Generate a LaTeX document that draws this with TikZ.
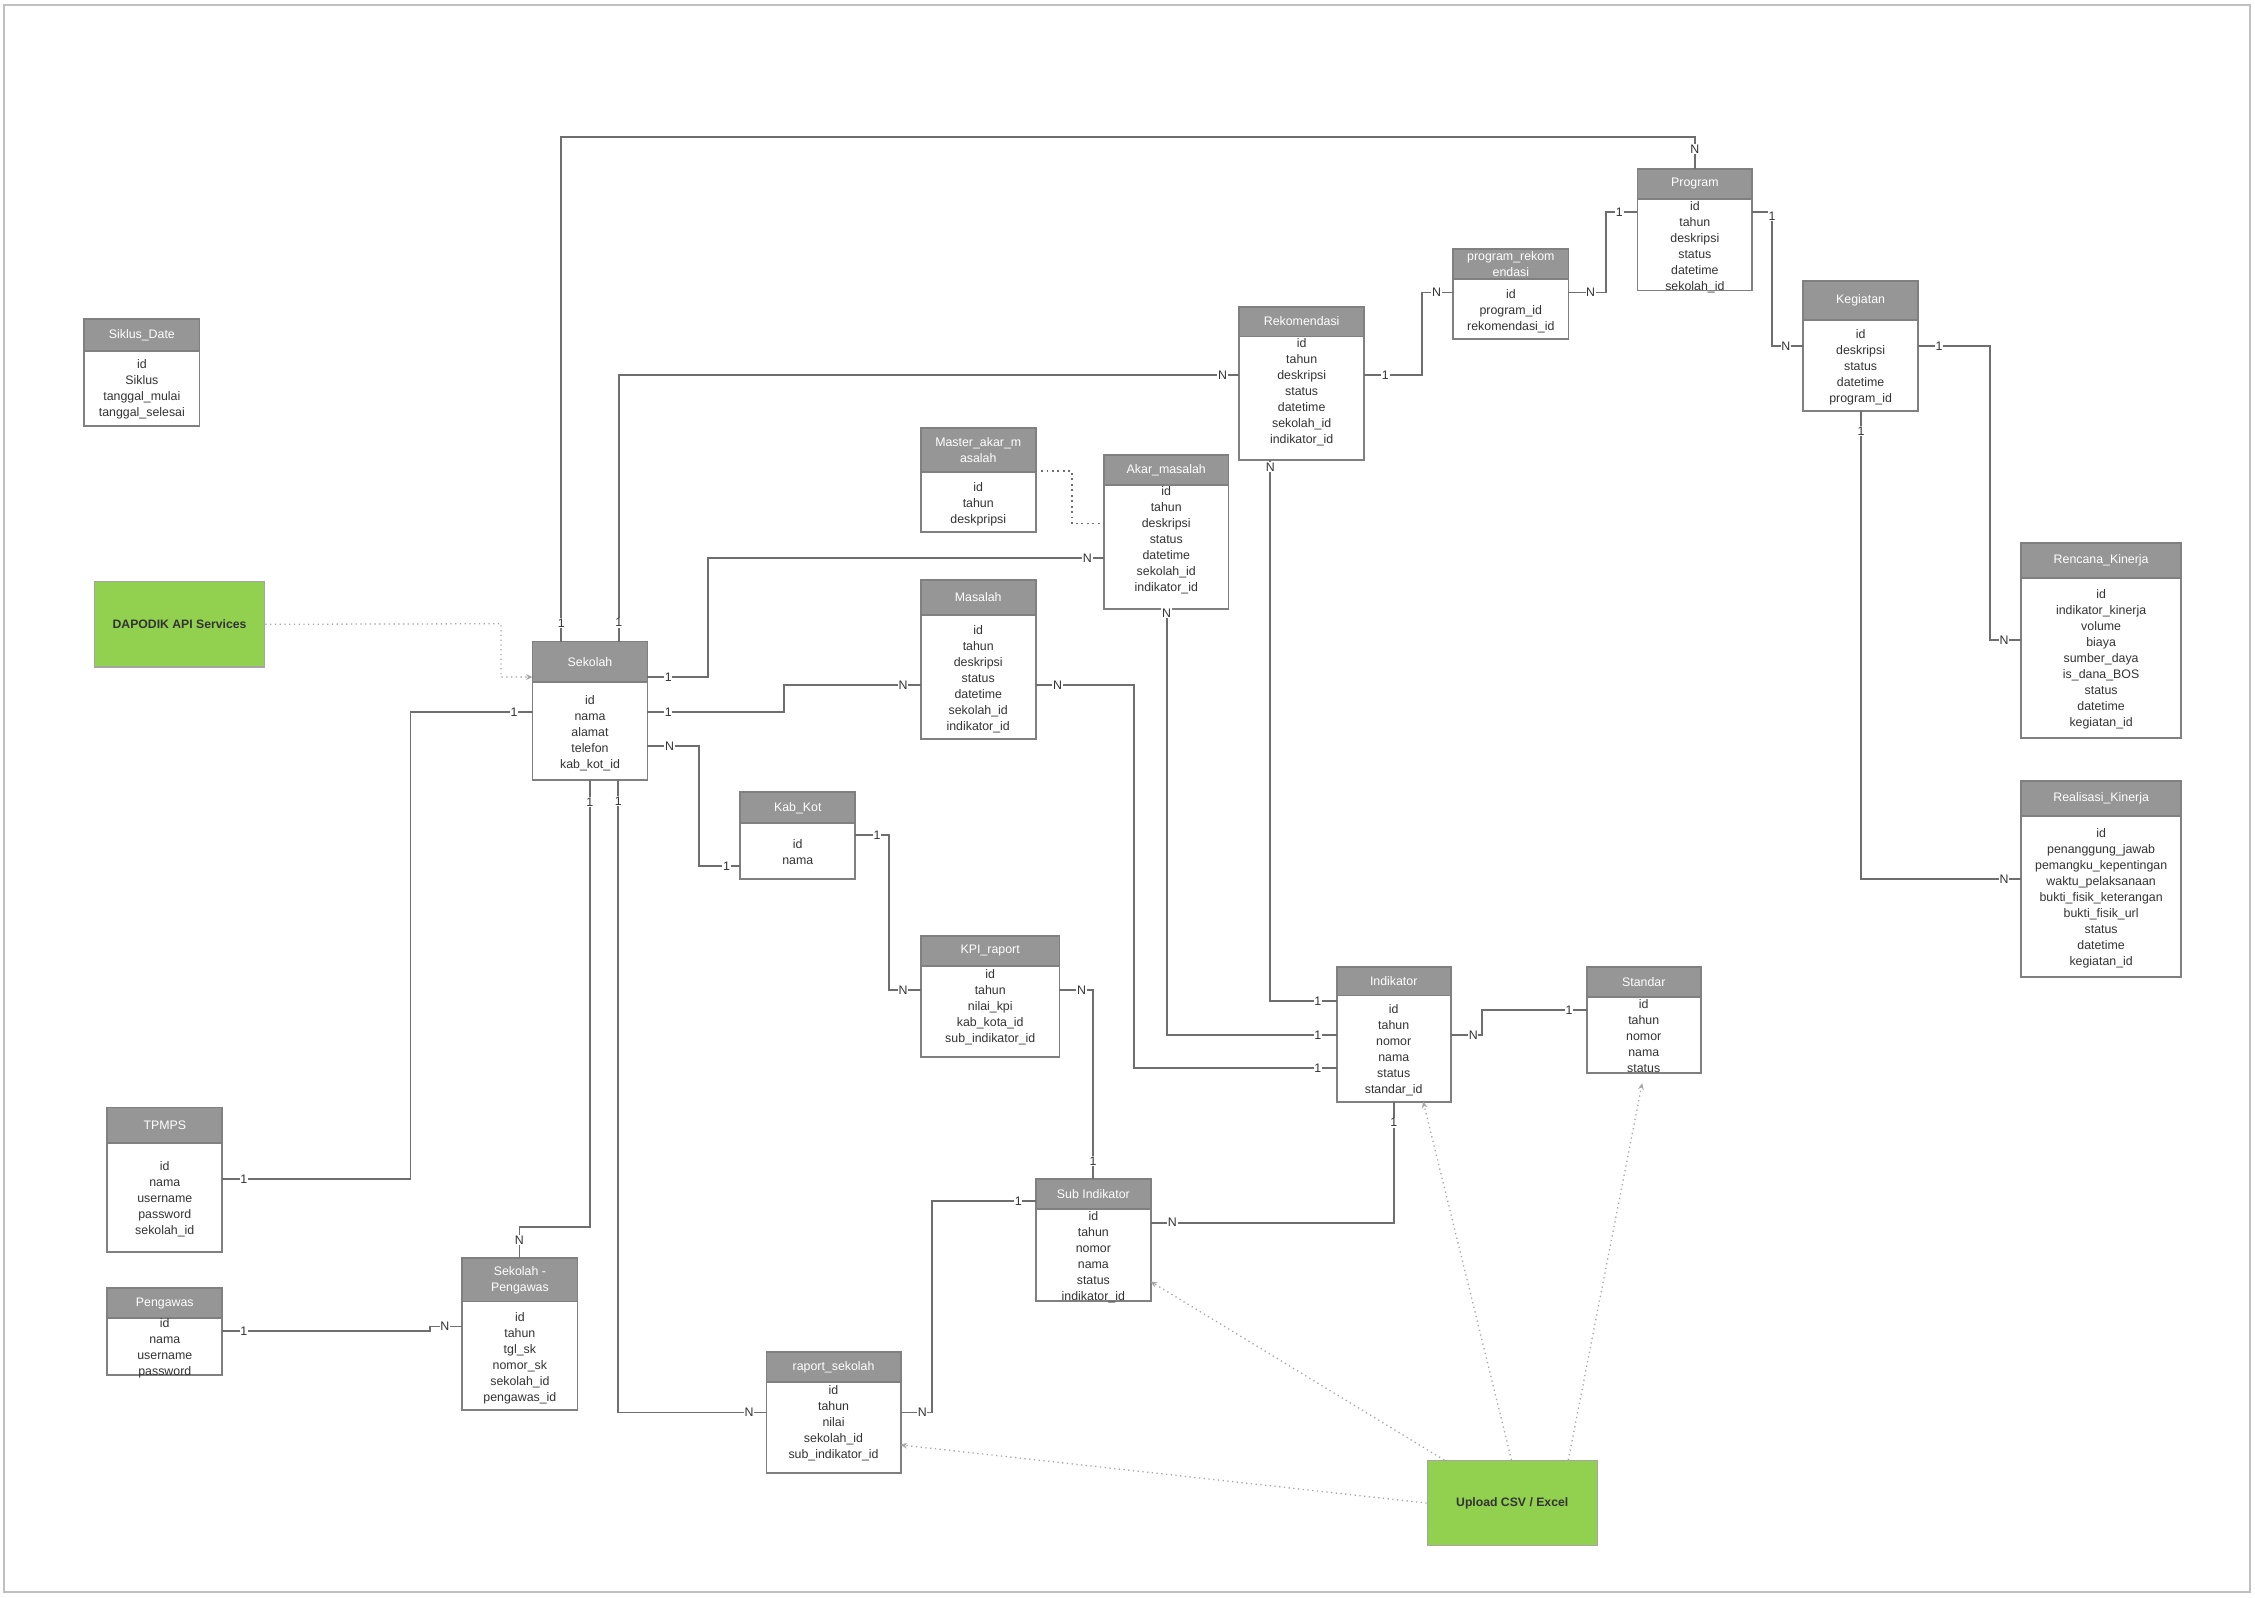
\documentclass[tikz,border=0pt]{standalone}
\usepackage{fontspec}
\setmainfont{Liberation Sans}
\usepackage{tikz}
\usetikzlibrary{arrows.meta, positioning, calc}
\definecolor{hdrgray}{RGB}{150,150,150}
\definecolor{boxgray}{RGB}{128,128,128}
\definecolor{linkgray}{RGB}{110,110,110}
\definecolor{dotgray}{RGB}{165,165,165}
\definecolor{apigreen}{RGB}{146,208,80}
\definecolor{txtgray}{RGB}{51,51,51}
\definecolor{framegray}{RGB}{192,192,192}
\tikzset{
  tbl/.style={draw=boxgray, fill=white, line width=1.3pt, inner sep=0pt, outer sep=0pt, anchor=north west},
  tblhead/.style={draw=boxgray, fill=hdrgray, line width=1.3pt, inner sep=0pt, outer sep=0pt, anchor=north west, text=white, align=center, font=\fontsize{8.6}{11.2}\selectfont},
  tblrows/.style={anchor=north, inner sep=0pt, align=center, text=txtgray, font=\fontsize{8.6}{11.15}\selectfont},
  card/.style={fill=white, inner sep=0.5pt, text=txtgray, font=\fontsize{8.6}{10}\selectfont},
  rel/.style={draw=linkgray, line width=1.3pt},
  feed/.style={draw=dotgray, line width=0.9pt, dash pattern=on 0.9pt off 2.4pt, -{Stealth[length=4.5pt,width=4pt]}},
  dotlink/.style={draw=linkgray, line width=1.2pt, dash pattern=on 1.2pt off 2.6pt},
  apibox/.style={draw=dotgray, fill=apigreen, line width=0.8pt, anchor=north west, inner sep=0pt, text=txtgray, font=\bfseries\fontsize{8.5}{10}\selectfont}
}

\begin{document}
\begin{tikzpicture}[x=1pt, y=-1pt]
  \useasboundingbox (0,0) rectangle (1568,1110.5);
  \draw[framegray, line width=1.2pt] (3,3.3) rectangle (1564.4,1107);

  % Siklus_Date
  \node[tbl, minimum width=80.1pt, minimum height=74.5pt] (siklus) at (58.6,222) {};
  \node[tblhead, minimum width=80.1pt, minimum height=21.8pt] (siklus-h) at (siklus.north west) {Siklus\_Date};
  \node[tblrows] (siklus-t) at (98.65,250) {id\\Siklus\\tanggal\_mulai\\tanggal\_selesai};

  % API and upload sources
  \node[apibox, minimum width=118.5pt, minimum height=59.4pt] (dapodik) at (65.2,404) {DAPODIK API Services};
  \node[apibox, minimum width=118.2pt, minimum height=59.1pt] (upload) at (992,1015.2) {Upload CSV / Excel};

  % Sekolah
  \node[tbl, minimum width=79.9pt, minimum height=96.2pt] (sekolah) at (370.3,446.1) {};
  \node[tblhead, minimum width=79.9pt, minimum height=28.1pt] (sekolah-h) at (sekolah.north west) {Sekolah};
  \node[tblrows] (sekolah-t) at (410.25,483.1) {id\\nama\\alamat\\telefon\\kab\_kot\_id};

  % Rekomendasi
  \node[tbl, minimum width=86.6pt, minimum height=106.5pt] (rekomendasi) at (861.8,213.2) {};
  \node[tblhead, minimum width=86.6pt, minimum height=20.8pt] (rekomendasi-h) at (rekomendasi.north west) {Rekomendasi};
  \node[tblrows] (rekomendasi-t) at (905.1,234.9) {id\\tahun\\deskripsi\\status\\datetime\\sekolah\_id\\indikator\_id};

  % program_rekomendasi
  \node[tbl, minimum width=80.1pt, minimum height=62.9pt] (progrek) at (1010.5,173.1) {};
  \node[tblhead, minimum width=80.1pt, minimum height=21pt] (progrek-h) at (progrek.north west) {program\_rekom\\endasi};
  \node[tblrows] (progrek-t) at (1050.55,200.9) {id\\program\_id\\rekomendasi\_id};

  % Program
  \node[tbl, minimum width=79.8pt, minimum height=84.6pt] (program) at (1138.6,117.4) {};
  \node[tblhead, minimum width=79.8pt, minimum height=21.1pt] (program-h) at (program.north west) {Program};
  \node[tblrows] (program-t) at (1178.5,139.8) {id\\tahun\\deskripsi\\status\\datetime\\sekolah\_id};

  % Kegiatan
  \node[tbl, minimum width=79.7pt, minimum height=90.2pt] (kegiatan) at (1253.9,195.4) {};
  \node[tblhead, minimum width=79.7pt, minimum height=27.1pt] (kegiatan-h) at (kegiatan.north west) {Kegiatan};
  \node[tblrows] (kegiatan-t) at (1293.75,228.8) {id\\deskripsi\\status\\datetime\\program\_id};

  % Master_akar_masalah
  \node[tbl, minimum width=79.8pt, minimum height=72.4pt] (masterakar) at (640.3,297.8) {};
  \node[tblhead, minimum width=79.8pt, minimum height=30.6pt] (masterakar-h) at (masterakar.north west) {Master\_akar\_m\\asalah};
  \node[tblrows] (masterakar-t) at (680.2,335.2) {id\\tahun\\deskpripsi};

  % Akar_masalah
  \node[tbl, minimum width=86.5pt, minimum height=107.3pt] (akar) at (767.7,316.2) {};
  \node[tblhead, minimum width=86.5pt, minimum height=21.3pt] (akar-h) at (akar.north west) {Akar\_masalah};
  \node[tblrows] (akar-t) at (810.95,337.9) {id\\tahun\\deskripsi\\status\\datetime\\sekolah\_id\\indikator\_id};

  % Masalah
  \node[tbl, minimum width=79.8pt, minimum height=110.4pt] (masalah) at (640.3,403.4) {};
  \node[tblhead, minimum width=79.8pt, minimum height=24.1pt] (masalah-h) at (masalah.north west) {Masalah};
  \node[tblrows] (masalah-t) at (680.2,434.6) {id\\tahun\\deskripsi\\status\\datetime\\sekolah\_id\\indikator\_id};

  % Kab_Kot
  \node[tbl, minimum width=79.8pt, minimum height=60.3pt] (kabkot) at (514.8,550.9) {};
  \node[tblhead, minimum width=79.8pt, minimum height=21.6pt] (kabkot-h) at (kabkot.north west) {Kab\_Kot};
  \node[tblrows] (kabkot-t) at (554.7,583.3) {id\\nama};

  % KPI_raport
  \node[tbl, minimum width=96.3pt, minimum height=84.4pt] (kpi) at (640.4,650.6) {};
  \node[tblhead, minimum width=96.3pt, minimum height=21.1pt] (kpi-h) at (kpi.north west) {KPI\_raport};
  \node[tblrows] (kpi-t) at (688.55,673.9) {id\\tahun\\nilai\_kpi\\kab\_kota\_id\\sub\_indikator\_id};

  % Indikator
  \node[tbl, minimum width=79.4pt, minimum height=93.4pt] (indikator) at (929.4,672.6) {};
  \node[tblhead, minimum width=79.4pt, minimum height=19.6pt] (indikator-h) at (indikator.north west) {Indikator};
  \node[tblrows] (indikator-t) at (969.1,698.1) {id\\tahun\\nomor\\nama\\status\\standar\_id};

  % Standar
  \node[tbl, minimum width=79.5pt, minimum height=73.2pt] (standar) at (1103.2,672.6) {};
  \node[tblhead, minimum width=79.5pt, minimum height=20.8pt] (standar-h) at (standar.north west) {Standar};
  \node[tblrows] (standar-t) at (1142.95,694.7) {id\\tahun\\nomor\\nama\\status};

  % Rencana_Kinerja
  \node[tbl, minimum width=111pt, minimum height=136.1pt] (rencana) at (1405.5,377.3) {};
  \node[tblhead, minimum width=111pt, minimum height=24.4pt] (rencana-h) at (rencana.north west) {Rencana\_Kinerja};
  \node[tblrows] (rencana-t) at (1461,409.7) {id\\indikator\_kinerja\\volume\\biaya\\sumber\_daya\\is\_dana\_BOS\\status\\datetime\\kegiatan\_id};

  % Realisasi_Kinerja
  \node[tbl, minimum width=111pt, minimum height=136pt] (realisasi) at (1405.5,543.1) {};
  \node[tblhead, minimum width=111pt, minimum height=24.3pt] (realisasi-h) at (realisasi.north west) {Realisasi\_Kinerja};
  \node[tblrows] (realisasi-t) at (1461,575.7) {id\\penanggung\_jawab\\pemangku\_kepentingan\\waktu\_pelaksanaan\\bukti\_fisik\_keterangan\\bukti\_fisik\_url\\status\\datetime\\kegiatan\_id};

  % TPMPS
  \node[tbl, minimum width=79.8pt, minimum height=100.6pt] (tpmps) at (74.7,770.1) {};
  \node[tblhead, minimum width=79.8pt, minimum height=24.9pt] (tpmps-h) at (tpmps.north west) {TPMPS};
  \node[tblrows] (tpmps-t) at (114.6,807.6) {id\\nama\\username\\password\\sekolah\_id};

  % Pengawas
  \node[tbl, minimum width=79.8pt, minimum height=60.2pt] (pengawas) at (74.7,895.8) {};
  \node[tblhead, minimum width=79.8pt, minimum height=20.8pt] (pengawas-h) at (pengawas.north west) {Pengawas};
  \node[tblrows] (pengawas-t) at (114.6,916.6) {id\\nama\\username\\password};

  % Sekolah - Pengawas
  \node[tbl, minimum width=80.2pt, minimum height=105.5pt] (sekpeng) at (321.4,874.9) {};
  \node[tblhead, minimum width=80.2pt, minimum height=30.1pt] (sekpeng-h) at (sekpeng.north west) {Sekolah -\\Pengawas};
  \node[tblrows] (sekpeng-t) at (361.5,912.4) {id\\tahun\\tgl\_sk\\nomor\_sk\\sekolah\_id\\pengawas\_id};

  % Sub Indikator
  \node[tbl, minimum width=79.7pt, minimum height=84.6pt] (subind) at (720.4,820) {};
  \node[tblhead, minimum width=79.7pt, minimum height=20.8pt] (subind-h) at (subind.north west) {Sub Indikator};
  \node[tblrows] (subind-t) at (760.25,842.1) {id\\tahun\\nomor\\nama\\status\\indikator\_id};

  % raport_sekolah
  \node[tbl, minimum width=93.2pt, minimum height=84.2pt] (raport) at (533,939.8) {};
  \node[tblhead, minimum width=93.2pt, minimum height=21.3pt] (raport-h) at (raport.north west) {raport\_sekolah};
  \node[tblrows] (raport-t) at (579.6,963.1) {id\\tahun\\nilai\\sekolah\_id\\sub\_indikator\_id};

  % relations from Sekolah
  \draw[rel] (sekolah.north -| 390.3,0) -- node[card,pos=.037]{1} (390.3,95.3) -- (1178.5,95.3) -- node[card,pos=.39]{N} (program.north -| 1178.5,0);
  \draw[rel] (sekolah.north -| 430.2,0) -- node[card,pos=.071]{1} (430.2,260.6) -- node[card,pos=.973]{N} (rekomendasi.west |- 0,260.6);
  \draw[rel] (sekolah.east |- 0,470.7) -- node[card,pos=.347]{1} (492,470.7) -- (492,388.1) -- node[card,pos=.958]{N} (akar.west |- 0,388.1);
  \draw[rel] (sekolah.east |- 0,495.3) -- node[card,pos=.153]{1} (545.1,495.3) -- (545.1,476.5) -- node[card,pos=.871]{N} (masalah.west |- 0,476.5);
  \draw[rel] (sekolah.east |- 0,518.9) -- node[card,pos=.43]{N} (485.8,518.9) -- (485.8,602.2) -- node[card,pos=.669]{1} (kabkot.west |- 0,602.2);
  \draw[rel] (sekolah.west |- 0,495.3) -- node[card,pos=.151]{1} (285.4,495.3) -- (285.4,820) -- node[card,pos=.885]{1} (tpmps.east |- 0,820);
  \draw[rel] (sekolah.south -| 410.2,0) -- node[card,pos=.049]{1} (410.2,852.9) -- (361.2,852.9) -- node[card,pos=.42]{N} (sekpeng.north -| 361.2,0);
  \draw[rel] (sekolah.south -| 429.9,0) -- node[card,pos=.034]{1} (429.9,982.2) -- node[card,pos=.882]{N} (raport.west |- 0,982.2);
  \draw[rel] (pengawas.east |- 0,925.5) -- node[card,pos=.104]{1} (299.2,925.5) -- (299.2,922.4) -- node[card,pos=.455]{N} (sekpeng.west |- 0,922.4);

  % program chain
  \draw[rel] (rekomendasi.east |- 0,260.6) -- node[card,pos=.367]{1} (989,260.6) -- (989,203.4) -- node[card,pos=.458]{N} (progrek.west |- 0,203.4);
  \draw[rel] (progrek.east |- 0,203.4) -- node[card,pos=.595]{N} (1116.6,203.4) -- (1116.6,147.5) -- node[card,pos=.427]{1} (program.west |- 0,147.5);
  \draw[rel] (program.east |- 0,147.5) -- (1232.1,147.5) -- node[card,pos=.03]{1} (1232.1,240.6) -- node[card,pos=.445]{N} (kegiatan.west |- 0,240.6);
  \draw[rel] (kegiatan.east |- 0,240.6) -- node[card,pos=.293]{1} (1383.8,240.6) -- (1383.8,445.3) -- node[card,pos=.447]{N} (rencana.west |- 0,445.3);
  \draw[rel] (kegiatan.south -| 1294,0) -- node[card,pos=.044]{1} (1294,611.2) -- node[card,pos=.893]{N} (realisasi.west |- 0,611.2);

  % indikator links
  \draw[rel] (rekomendasi.south -| 883.3,0) -- node[card,pos=.013]{N} (883.3,696.3) -- node[card,pos=.716]{1} (indikator.west |- 0,696.3);
  \draw[rel] (akar.south -| 811.2,0) -- node[card,pos=.01]{N} (811.2,719.5) -- node[card,pos=.889]{1} (indikator.west |- 0,719.5);
  \draw[rel] (masalah.east |- 0,476.5) -- node[card,pos=.222]{N} (788.6,476.5) -- (788.6,742.6) -- node[card,pos=.907]{1} (indikator.west |- 0,742.6);
  \draw[rel] (indikator.east |- 0,719.5) -- node[card,pos=.716]{N} (1030.6,719.5) -- (1030.6,702.4) -- node[card,pos=.832]{1} (standar.west |- 0,702.4);
  \draw[rel] (kabkot.east |- 0,580.8) -- node[card,pos=.641]{1} (618.3,580.8) -- (618.3,688.4) -- node[card,pos=.434]{N} (kpi.west |- 0,688.4);
  \draw[rel] (kpi.east |- 0,688.4) -- node[card,pos=.657]{N} (760,688.4) -- node[card,pos=.903]{1} (subind.north -| 760,0);
  \draw[rel] (subind.east |- 0,850.1) -- node[card,pos=.089]{N} (969.2,850.1) -- node[card,pos=.826]{1} (indikator.south -| 969.2,0);
  \draw[rel] (subind.west |- 0,835) -- node[card,pos=.172]{1} (648.2,835) -- (648.2,982.2) -- node[card,pos=.314]{N} (raport.east |- 0,982.2);

  % dotted feeds
  \draw[feed] (dapodik.east) -- (348.3,433.7) -- (348.3,470.8) -- (sekolah.west |- 0,470.8);
  \draw[dotlink] (masterakar.east |- 0,327.6) -- (745.4,327.6) -- (745.4,364.1) -- (akar.west |- 0,364.1);
  \draw[feed] (upload.north -| 1004.2,0) -- (subind.east |- 0,891.1);
  \draw[feed] (upload.west) -- (raport.east |- 0,1004.7);
  \draw[feed] (upload.north -| 1051,0) -- (indikator.south -| 989.6,0);
  \draw[feed, shorten >=7.5pt] (upload.north -| 1090.5,0) -- (standar.south -| 1143.3,0);
\end{tikzpicture}
\end{document}
